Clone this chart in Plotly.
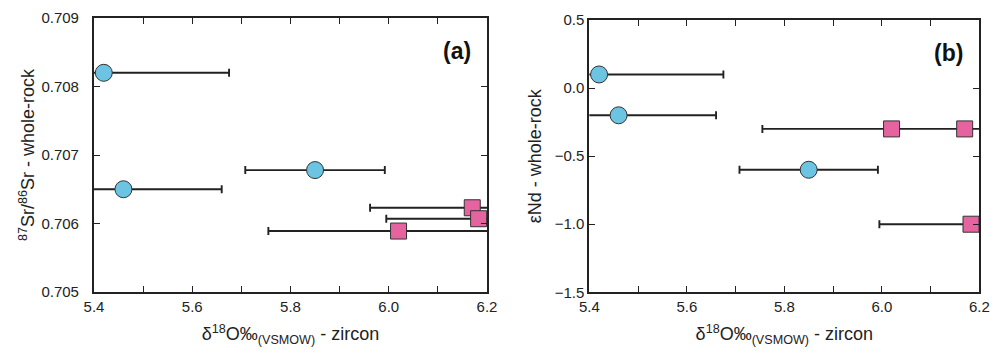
import plotly.graph_objects as go

# Data: delta18O zircon (x), symmetric error, Sr and eNd whole-rock
d18o = [5.42, 5.46, 5.85, 6.17, 6.183, 6.02]
d18o_err_sr = [0.255, 0.20, 0.142, 0.208, 0.188, 0.265]
d18o_err_nd = [0.255, 0.20, 0.142, 0.0, 0.188, 0.265]
sr_ratio = [0.70820, 0.70650, 0.70678, 0.70623, 0.70607, 0.70589]
eps_nd = [0.10, -0.20, -0.60, -0.30, -1.00, -0.30]
group = ["circle", "circle", "circle", "square", "square", "square"]

x_ticks = [5.4, 5.6, 5.8, 6.0, 6.2]
sr_ticks = [0.705, 0.706, 0.707, 0.708, 0.709]
nd_ticks = [-1.5, -1.0, -0.5, 0.0, 0.5]

BLUE = "#6BC4E2"
PINK = "#E5649F"
INK = "#222222"
FONT = "Liberation Sans, Arial, sans-serif"

fig = go.Figure()

def add_panel(yvals, errs, xa, ya):
    # error bars (clipped to plot area)
    fig.add_trace(go.Scatter(
        x=d18o, y=yvals, mode="markers",
        marker=dict(size=1, color="rgba(0,0,0,0)"),
        error_x=dict(type="data", array=errs, symmetric=True,
                     color=INK, thickness=1.9, width=4),
        xaxis=xa, yaxis=ya, showlegend=False, cliponaxis=True, hoverinfo="skip"))
    for shape, col, sz in (("circle", BLUE, 17), ("square", PINK, 16)):
        xs = [x for x, g in zip(d18o, group) if g == shape]
        ys = [y for y, g in zip(yvals, group) if g == shape]
        fig.add_trace(go.Scatter(
            x=xs, y=ys, mode="markers",
            marker=dict(symbol=shape, size=sz, color=col,
                        line=dict(color="#333333", width=1)),
            xaxis=xa, yaxis=ya, showlegend=False, cliponaxis=False))

add_panel(sr_ratio, d18o_err_sr, "x", "y")
add_panel(eps_nd, d18o_err_nd, "x2", "y2")

axis_common = dict(
    showline=True, linecolor=INK, linewidth=2, mirror="ticks",
    ticks="inside", ticklen=6, tickwidth=1.3, tickcolor=INK,
    showgrid=False, zeroline=False, automargin=False,
    tickfont=dict(family=FONT, size=15, color="#222"),
)
xaxis_common = dict(
    axis_common, range=[5.4, 6.2], tickvals=x_ticks, tickformat=".1f",
    minor=dict(dtick=0.1, tick0=5.4, ticks="inside", ticklen=6, tickwidth=1.3, tickcolor=INK),
    title=dict(text="δ<sup>18</sup>O‰<sub>(VSMOW)</sub> - zircon",
               font=dict(family=FONT, size=18, color="#222"), standoff=16),
)

fig.update_layout(
    width=987, height=339,
    margin=dict(l=0, r=0, t=0, b=0, autoexpand=False),
    paper_bgcolor="white", plot_bgcolor="white",
    xaxis=dict(xaxis_common, domain=[0.0871, 0.4853], anchor="y"),
    yaxis=dict(axis_common, domain=[0.1622, 0.9705], anchor="x",
               range=[0.705, 0.709], tickvals=sr_ticks, tickformat=".3f",
               ticklabelstandoff=10,
               title=dict(text="<sup>87</sup>Sr/<sup>86</sup>Sr - whole-rock",
                          font=dict(family=FONT, size=18, color="#222"), standoff=2)),
    xaxis2=dict(xaxis_common, domain=[0.5890, 0.9841], anchor="y2"),
    yaxis2=dict(axis_common, domain=[0.1614, 0.9646], anchor="x2",
                range=[-1.5, 0.5], tickvals=nd_ticks, tickformat=".1f",
                title=dict(text="εNd - whole-rock",
                           font=dict(family=FONT, size=18, color="#222"), standoff=8)),
    annotations=[
        dict(text="<b>(a)</b>", xref="x domain", yref="y domain", x=0.964, y=0.88,
             xanchor="right", yanchor="middle", showarrow=False,
             font=dict(family=FONT, size=23, color="#111")),
        dict(text="<b>(b)</b>", xref="x2 domain", yref="y2 domain", x=0.964, y=0.88,
             xanchor="right", yanchor="middle", showarrow=False,
             font=dict(family=FONT, size=23, color="#111")),
    ],
)

fig.write_html("out.html")
